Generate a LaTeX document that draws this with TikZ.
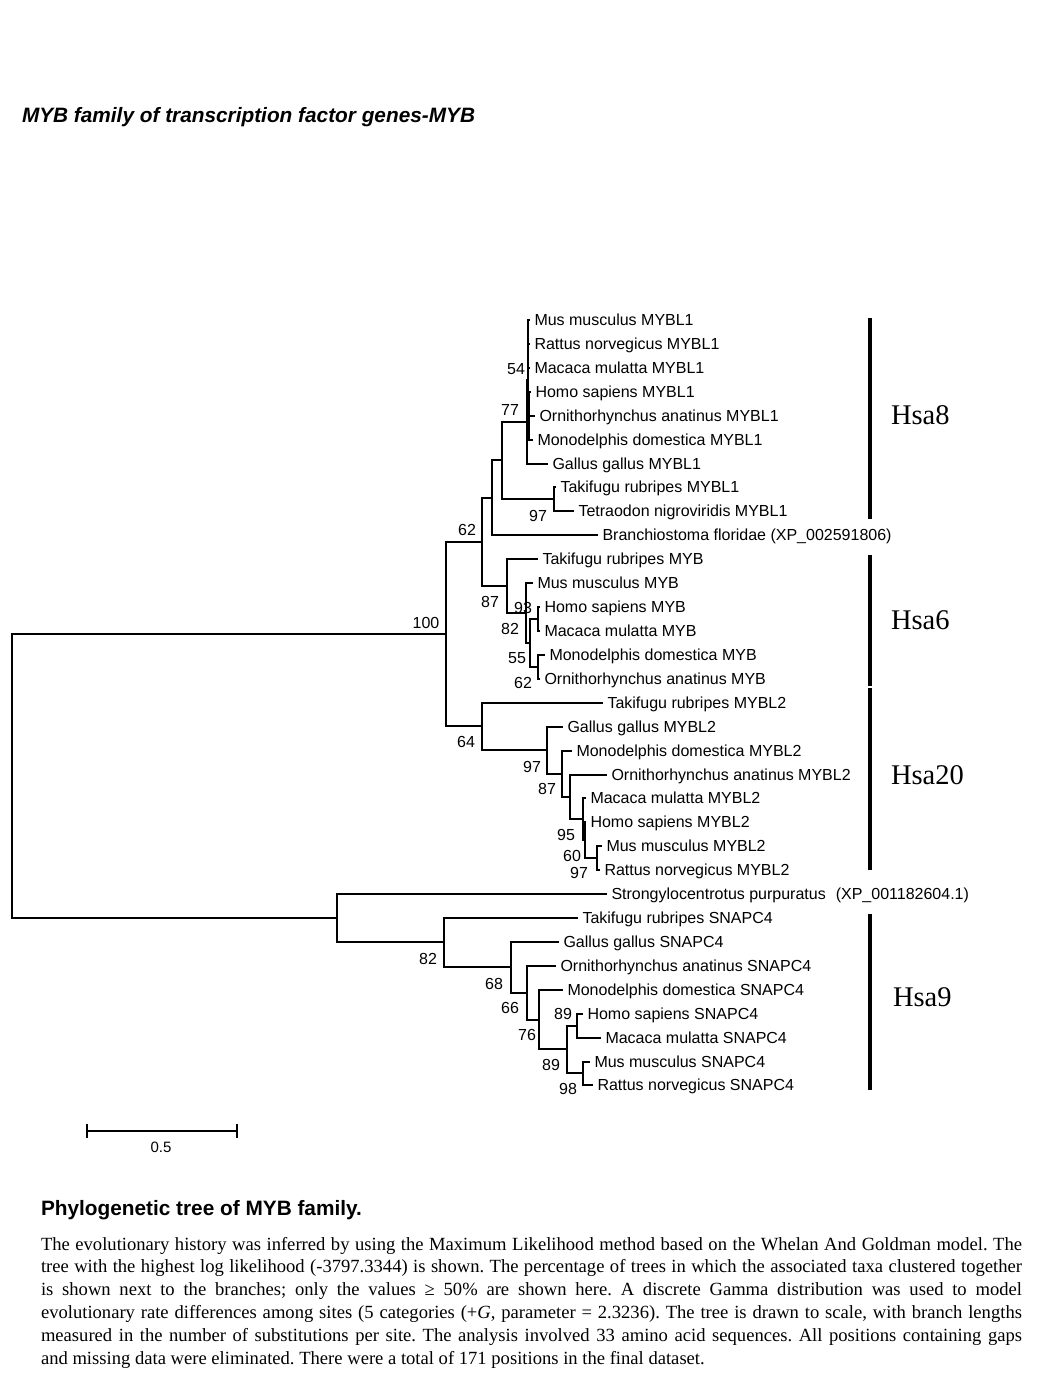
\documentclass[tikz,border=0pt]{standalone}
\usepackage{fontspec}
\setmainfont{Liberation Serif}
\setsansfont{Liberation Sans}
\tikzset{
  leaf/.style={anchor=west, inner sep=3.5pt, font=\sffamily\fontsize{16}{19}\selectfont, text height=11.5pt, text depth=0pt},
  boot/.style={inner sep=0pt, font=\sffamily\fontsize{16}{19}\selectfont, text height=11.5pt, text depth=0pt},
  hsabar/.style={line width=4pt},
  hsa/.style={anchor=west, inner sep=0pt, font=\rmfamily\fontsize{28.5}{32}\selectfont, text height=18.9pt, text depth=0pt}
}
\begin{document}
\begin{tikzpicture}[x=1pt, y=-1pt, line width=2pt]
\useasboundingbox (0,0) rectangle (1036,1378);
% title
\node[anchor=west, inner sep=0pt, font=\sffamily\bfseries\itshape\fontsize{20.8}{24}\selectfont, text height=14.9pt, text depth=0pt] (title) at (21,115) {MYB family of transcription factor genes-MYB};
% leaves
\node[leaf] (mmB1) at (530,320) {Mus musculus MYBL1};
\node[leaf] (rnB1) at (530,344) {Rattus norvegicus MYBL1};
\node[leaf] (macB1) at (530,368) {Macaca mulatta MYBL1};
\node[leaf] (hsB1) at (531,392) {Homo sapiens MYBL1};
\node[leaf] (oaB1) at (535,416) {Ornithorhynchus anatinus MYBL1};
\node[leaf] (mdB1) at (533,440) {Monodelphis domestica MYBL1};
\node[leaf] (ggB1) at (548,464) {Gallus gallus MYBL1};
\node[leaf] (trB1) at (556,487) {Takifugu rubripes MYBL1};
\node[leaf] (tnB1) at (574,511) {Tetraodon nigroviridis MYBL1};
\node[leaf] (bf) at (598,535) {Branchiostoma floridae (XP\_002591806)};
\node[leaf] (trM) at (538,559) {Takifugu rubripes MYB};
\node[leaf] (mmM) at (533,583) {Mus musculus MYB};
\node[leaf] (hsM) at (540,607) {Homo sapiens MYB};
\node[leaf] (macM) at (540,631) {Macaca mulatta MYB};
\node[leaf] (mdM) at (545,655) {Monodelphis domestica MYB};
\node[leaf] (oaM) at (540,679) {Ornithorhynchus anatinus MYB};
\node[leaf] (trB2) at (603,703) {Takifugu rubripes MYBL2};
\node[leaf] (ggB2) at (563,727) {Gallus gallus MYBL2};
\node[leaf] (mdB2) at (572,751) {Monodelphis domestica MYBL2};
\node[leaf] (oaB2) at (607,775) {Ornithorhynchus anatinus MYBL2};
\node[leaf] (macB2) at (586,798) {Macaca mulatta MYBL2};
\node[leaf] (hsB2) at (586,822) {Homo sapiens MYBL2};
\node[leaf] (mmB2) at (602,846) {Mus musculus MYBL2};
\node[leaf] (rnB2) at (600,870) {Rattus norvegicus MYBL2};
\node[leaf] (sp) at (607,894) {Strongylocentrotus purpuratus\hspace{10pt}(XP\_001182604.1)};
\node[leaf] (trS) at (578,918) {Takifugu rubripes SNAPC4};
\node[leaf] (ggS) at (559,942) {Gallus gallus SNAPC4};
\node[leaf] (oaS) at (556,966) {Ornithorhynchus anatinus SNAPC4};
\node[leaf] (mdS) at (563,990) {Monodelphis domestica SNAPC4};
\node[leaf] (hsS) at (583,1014) {Homo sapiens SNAPC4};
\node[leaf] (macS) at (601,1038) {Macaca mulatta SNAPC4};
\node[leaf] (mmS) at (590,1062) {Mus musculus SNAPC4};
\node[leaf] (rnS) at (593,1085) {Rattus norvegicus SNAPC4};
% inner nodes
\coordinate (root) at (12,776);
\coordinate (n100) at (446,634);
\coordinate (n62) at (482,542);
\coordinate (nB) at (492,498);
\coordinate (nC) at (502,460);
\coordinate (n77) at (527,422);
\coordinate (n54) at (528,380);
\coordinate (nP) at (528,344);
\coordinate (nQ) at (529,416);
\coordinate (n97f) at (554,499);
\coordinate (n87) at (507,586);
\coordinate (n93) at (526,613);
\coordinate (n82) at (530,643);
\coordinate (nHM) at (538,619);
\coordinate (nMO) at (538,667);
\coordinate (n64) at (482,726);
\coordinate (n97) at (547,750);
\coordinate (n87b) at (562,774);
\coordinate (n95) at (570,797);
\coordinate (nA) at (583,819);
\coordinate (n60) at (585,840);
\coordinate (n97c) at (597,858);
\coordinate (nS) at (337,918);
\coordinate (n82s) at (444,942);
\coordinate (n68) at (511,967);
\coordinate (n66) at (527,993);
\coordinate (n76) at (539,1020);
\coordinate (n89b) at (567,1049);
\coordinate (n89a) at (577,1026);
\coordinate (n98) at (583,1073);
% branches
\draw (root) |- (n100) (root) |- (nS);
\draw (n100) |- (n62) (n100) |- (n64);
\draw (n62) |- (nB) (n62) |- (n87);
\draw (nB) |- (nC) (nB) |- (bf.west);
\draw (nC) |- (n77) (nC) |- (n97f);
\draw (n77) |- (n54) (n77) |- (ggB1.west);
\draw (n54) |- (nP) (n54) |- (nQ);
\draw (nP) |- (mmB1.west) (nP) |- (rnB1.west) (nP) |- (macB1.west);
\draw (nQ) |- (hsB1.west) (nQ) |- (oaB1.west) (nQ) |- (mdB1.west);
\draw (n97f) |- (trB1.west) (n97f) |- (tnB1.west);
\draw (n87) |- (trM.west) (n87) |- (n93);
\draw (n93) |- (mmM.west) (n93) |- (n82);
\draw (n82) |- (nHM) (n82) |- (nMO);
\draw (nHM) |- (hsM.west) (nHM) |- (macM.west);
\draw (nMO) |- (mdM.west) (nMO) |- (oaM.west);
\draw (n64) |- (trB2.west) (n64) |- (n97);
\draw (n97) |- (ggB2.west) (n97) |- (n87b);
\draw (n87b) |- (mdB2.west) (n87b) |- (n95);
\draw (n95) |- (oaB2.west) (n95) |- (nA);
\draw (nA) |- (macB2.west) (nA) |- (n60);
\draw (n60) |- (hsB2.west) (n60) |- (n97c);
\draw (n97c) |- (mmB2.west) (n97c) |- (rnB2.west);
\draw (nS) |- (sp.west) (nS) |- (n82s);
\draw (n82s) |- (trS.west) (n82s) |- (n68);
\draw (n68) |- (ggS.west) (n68) |- (n66);
\draw (n66) |- (oaS.west) (n66) |- (n76);
\draw (n76) |- (mdS.west) (n76) |- (n89b);
\draw (n89b) |- (n89a) (n89b) |- (n98);
\draw (n89a) |- (hsS.west) (n89a) |- (macS.west);
\draw (n98) |- (mmS.west) (n98) |- (rnS.west);
% bootstrap values
\node[boot] (b100) at (426,623) {100};
\node[boot] (b62) at (467,530) {62};
\node[boot] (b77) at (510,410) {77};
\node[boot] (b54) at (516,369) {54};
\node[boot] (b97f) at (538,516) {97};
\node[boot] (b87) at (490,602) {87};
\node[boot] (b93) at (523,608) {93};
\node[boot] (b82) at (510,629) {82};
\node[boot] (b55) at (517,658) {55};
\node[boot] (b62m) at (523,683) {62};
\node[boot] (b64) at (466,742) {64};
\node[boot] (b97) at (532,767) {97};
\node[boot] (b87b) at (547,789) {87};
\node[boot] (b95) at (566,835) {95};
\node[boot] (b60) at (572,856) {60};
\node[boot] (b97c) at (579,873) {97};
\node[boot] (b82s) at (428,959) {82};
\node[boot] (b68) at (494,984) {68};
\node[boot] (b66) at (510,1008) {66};
\node[boot] (b76) at (527,1035) {76};
\node[boot] (b89a) at (563,1014) {89};
\node[boot] (b89b) at (551,1065) {89};
\node[boot] (b98) at (568,1089) {98};
% chromosome bars
\draw[hsabar] (870,318) -- (870,519);
\draw[hsabar] (870,555) -- (870,686);
\draw[hsabar] (870,688) -- (870,870);
\draw[hsabar] (870,914) -- (870,1090);
\node[hsa] (hsa8) at (890,415) {Hsa8};
\node[hsa] (hsa6) at (890,620) {Hsa6};
\node[hsa] (hsa20) at (890,775) {Hsa20};
\node[hsa] (hsa9) at (892,997) {Hsa9};
% scale bar
\coordinate (s0) at (87,1131);
\coordinate (s1) at (237,1131);
\draw[line width=2.4pt] (s0) -- (s1) (s0) ++(0,-7) -- ++(0,14) (s1) ++(0,-7) -- ++(0,14);
\node[boot, font=\sffamily\fontsize{15}{18}\selectfont, text height=10.7pt] (sc) at (161,1147) {0.5};
% caption
\node[anchor=west, inner sep=0pt, font=\sffamily\bfseries\fontsize{20.8}{24}\selectfont, text height=14.9pt, text depth=0pt] (cap) at (40,1208) {Phylogenetic tree of MYB family.};
\node[anchor=north west, inner sep=0pt, align=left, font=\rmfamily\frenchspacing\fontsize{18.6}{22.8}\selectfont] (body) at (40,1236) {%
\makebox[981pt][s]{The evolutionary history was inferred by using the Maximum Likelihood method based on the Whelan And Goldman model. The}\\
\makebox[981pt][s]{tree with the highest log likelihood (-3797.3344) is shown. The percentage of trees in which the associated taxa clustered together}\\
\makebox[981pt][s]{is shown next to the branches; only the values ≥ 50\% are shown here. A discrete Gamma distribution was used to model}\\
\makebox[981pt][s]{evolutionary rate differences among sites (5 categories (+\textit{G}, parameter = 2.3236). The tree is drawn to scale, with branch lengths}\\
\makebox[981pt][s]{measured in the number of substitutions per site. The analysis involved 33 amino acid sequences. All positions containing gaps}\\
and missing data were eliminated. There were a total of 171 positions in the final dataset.};
\end{tikzpicture}
\end{document}
